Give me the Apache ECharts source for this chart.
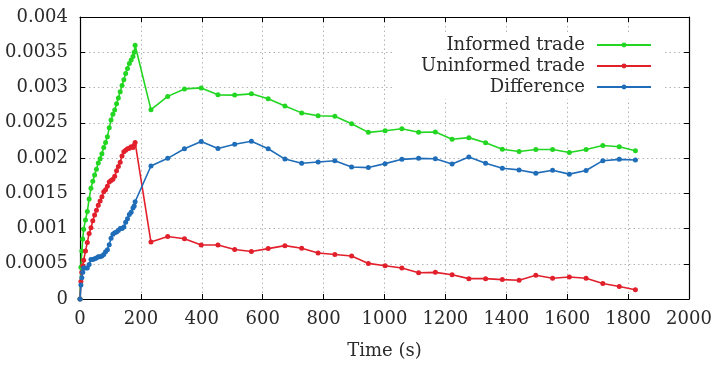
<!DOCTYPE html>
<html>
<head>
<meta charset="utf-8">
<script src="https://cdn.jsdelivr.net/npm/echarts@6/dist/echarts.min.js"></script>
<style>
  html, body { margin: 0; padding: 0; background: #fff; }
  #chart { width: 716px; height: 365px; }
</style>
</head>
<body>
<div id="chart"></div>
<script>
// sample times (s)
var times = [0, 3, 6, 9, 12, 18, 24, 30, 36, 42, 48, 54, 60, 66, 72, 78, 84, 90, 96, 102,
  108, 114, 120, 126, 132, 138, 144, 150, 156, 162, 168, 174, 178, 181,
  233, 288, 343, 398, 453, 508, 563, 618, 673, 728, 782, 837, 892, 947, 1002, 1057,
  1112, 1167, 1222, 1277, 1332, 1387, 1442, 1497, 1552, 1607, 1662, 1717, 1771, 1824];

var informed = [0, 0.00045, 0.00068, 0.00085, 0.00099, 0.00112, 0.00124, 0.00142, 0.00157, 0.00167,
  0.00176, 0.00184, 0.00193, 0.00199, 0.00206, 0.00215, 0.00222, 0.0023, 0.00243, 0.00254,
  0.00262, 0.00268, 0.00277, 0.00285, 0.00294, 0.00303, 0.00311, 0.0032, 0.00327, 0.00334,
  0.00339, 0.00344, 0.0035, 0.0036,
  0.002686, 0.002874, 0.00298, 0.002994, 0.002896, 0.002892, 0.00291, 0.00284, 0.002738, 0.00264,
  0.0026, 0.002593, 0.002486, 0.002364, 0.002387, 0.002415, 0.002364, 0.002369, 0.002265, 0.002289,
  0.002215, 0.002125, 0.002093, 0.002121, 0.002121, 0.002079, 0.002121, 0.002177, 0.002159, 0.002103];

var uninformed = [0, 0.00025, 0.00038, 0.00047, 0.00055, 0.00068, 0.0008, 0.00093, 0.00101, 0.00111,
  0.00119, 0.00126, 0.00133, 0.00139, 0.00145, 0.00152, 0.00155, 0.0016, 0.00166, 0.00168,
  0.0017, 0.00174, 0.00182, 0.00188, 0.00194, 0.00203, 0.00209, 0.00211, 0.00213, 0.00214,
  0.00216, 0.00215, 0.00218, 0.00222,
  0.000807, 0.000887, 0.000855, 0.000766, 0.000766, 0.000701, 0.000673, 0.000715, 0.000757, 0.000719,
  0.000653, 0.000631, 0.000611, 0.000505, 0.000471, 0.000439, 0.000373, 0.000378, 0.000345, 0.000289,
  0.000289, 0.000275, 0.000266, 0.000336, 0.000294, 0.000313, 0.000294, 0.000219, 0.000177, 0.00013];

var difference = [0, 0.0002, 0.0003, 0.00038, 0.00044, 0.00044, 0.00044, 0.00049, 0.00056, 0.00056,
  0.00057, 0.00058, 0.0006, 0.0006, 0.00061, 0.00063, 0.00067, 0.0007, 0.00077, 0.00086,
  0.00092, 0.00094, 0.00095, 0.00097, 0.001, 0.001, 0.00102, 0.00109, 0.00114, 0.0012,
  0.00123, 0.00129, 0.00132, 0.00138,
  0.001887, 0.001995, 0.002131, 0.002233, 0.002135, 0.002195, 0.002237, 0.002131, 0.001985, 0.001925,
  0.001943, 0.001962, 0.001873, 0.001864, 0.00192, 0.001981, 0.001995, 0.00199, 0.001915, 0.002013,
  0.001925, 0.001855, 0.001831, 0.001785, 0.001827, 0.001771, 0.001822, 0.001962, 0.001981, 0.001971];

var seriesNames = ['Informed trade', 'Uninformed trade', 'Difference'];
var seriesColors = ['#22d622', '#e2202c', '#1f6db8'];
var xTicks = { min: 0, max: 2000, step: 200 };
var yTicks = { min: 0, max: 0.004, step: 0.0005 };

function pairs(ys) {
  return times.map(function (t, i) { return [t, ys[i]]; });
}

var font = 'DejaVu Serif';
var textColor = '#2a2a2a';
var chart = echarts.init(document.getElementById('chart'));

function axisBase(pos, isX) {
  var r = isX ? xTicks : yTicks;
  return {
    type: 'value',
    position: pos,
    min: r.min,
    max: r.max,
    interval: r.step,
    axisLine: { show: true, onZero: false, lineStyle: { color: '#000', width: 1.2 } },
    axisTick: { show: true, inside: true, length: 5, lineStyle: { color: '#000' } },
    splitLine: { show: false },
    axisLabel: { show: false }
  };
}

var gridDots = { show: true, lineStyle: { color: '#b4b4b4', width: 1, type: [1.5, 3] } };

var xMain = axisBase('bottom', true);
xMain.splitLine = gridDots;
xMain.axisLabel = {
  show: true, margin: 11, fontFamily: font, fontSize: 18, color: textColor,
  formatter: function (v) { return String(v); }
};
xMain.name = 'Time (s)';
xMain.nameLocation = 'middle';
xMain.nameGap = 43;
xMain.nameTextStyle = { fontFamily: font, fontSize: 18, color: textColor };

var yMain = axisBase('left', false);
yMain.splitLine = gridDots;
yMain.axisLabel = {
  show: true, margin: 12, fontFamily: font, fontSize: 18, color: textColor,
  formatter: function (v) { return String(+v.toFixed(4)); }
};

var option = {
  backgroundColor: '#fff',
  animation: false,
  grid: { left: 80, right: 27, top: 17, bottom: 63 },
  xAxis: [xMain, axisBase('top', true)],
  yAxis: [yMain, axisBase('right', false)],
  legend: {
    orient: 'vertical',
    align: 'right',
    right: 51,
    top: 33,
    padding: [3, 13, 3, 26],
    backgroundColor: '#fff',
    itemWidth: 54,
    itemHeight: 6,
    itemGap: 3,
    textStyle: { fontFamily: font, fontSize: 18, color: textColor, padding: [0, 7, 0, 0] },
    data: seriesNames
  },
  series: seriesNames.map(function (name, i) {
    return {
      name: name,
      type: 'line',
      xAxisIndex: 0,
      yAxisIndex: 0,
      data: pairs([informed, uninformed, difference][i]),
      symbol: 'circle',
      symbolSize: 5,
      showSymbol: true,
      color: seriesColors[i],
      lineStyle: { width: 1.6, color: seriesColors[i] },
      itemStyle: { color: seriesColors[i] }
    };
  })
};
chart.setOption(option);
</script>
</body>
</html>
